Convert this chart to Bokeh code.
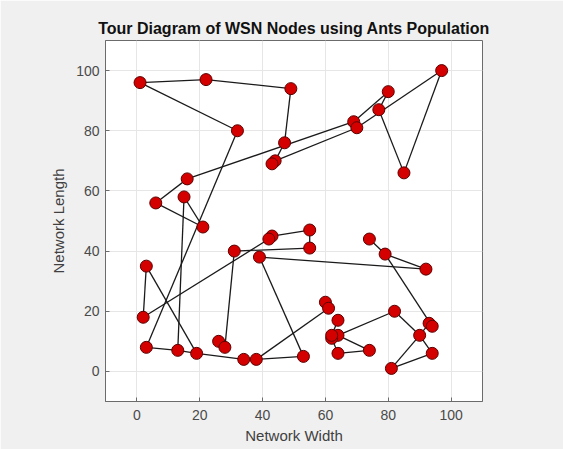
from bokeh.plotting import figure
from bokeh.models import FixedTicker, ColumnDataSource
from bokeh.embed import file_html
from bokeh.resources import INLINE

# Node coordinates
node_x = [1, 22, 49, 32, 47, 44, 43, 16, 6, 15,
          21, 97, 80, 77, 69, 70, 85, 55, 43, 42,
          31, 39, 3, 2, 3, 13, 19, 26, 28, 34,
          38, 53, 55, 74, 79, 92, 60, 61, 64, 64,
          62, 62, 64, 74, 82, 90, 93, 94, 94, 81]
node_y = [96, 97, 94, 80, 76, 70, 69, 64, 56, 58,
          48, 100, 93, 87, 83, 81, 66, 47, 45, 44,
          40, 38, 35, 18, 8, 7, 6, 10, 8, 4,
          4, 5, 41, 44, 39, 34, 23, 21, 17, 12,
          11, 12, 6, 7, 20, 12, 16, 15, 6, 1]

# Tour links between nodes (indices into the node arrays)
edge_from = [0, 1, 0, 2, 3, 7, 8, 9, 9, 24, 25, 22, 22, 23, 18, 18, 17, 20, 20, 21,
             21, 26, 29, 30, 30, 27, 36, 38, 39, 39, 42, 40, 44, 45, 49, 45, 45, 46,
             34, 33, 34, 11, 16, 13, 12, 11, 14, 7, 15, 4, 5]
edge_to = [1, 2, 3, 4, 24, 8, 10, 10, 25, 25, 26, 23, 26, 19, 19, 17, 32, 32, 28, 35,
           31, 29, 30, 31, 37, 28, 37, 41, 44, 43, 43, 42, 45, 49, 48, 48, 46, 47,
           47, 34, 35, 16, 13, 12, 14, 15, 15, 14, 5, 5, 6]

ticks = [0, 20, 40, 60, 80, 100]
tick_labels = ["0", "20", "40", "60", "80", "100"]

FONT = "Liberation Sans"

p = figure(width=563, height=449, x_range=(-10, 110), y_range=(-10, 110),
           output_backend="svg", toolbar_location=None,
           title="Tour Diagram of WSN Nodes using Ants Population")
p.min_border_left = 105
p.min_border_right = 81
p.min_border_top = 40
p.min_border_bottom = 48

p.background_fill_color = "white"
p.border_fill_color = "#f0f0f0"
p.outline_line_color = "#6b6b6b"
p.outline_line_width = 1

p.title.align = "center"
p.title.text_font = FONT
p.title.text_font_size = "16px"
p.title.text_font_style = "bold"
p.title.text_color = "#111111"
p.title.standoff = 7

for ax in (p.xaxis[0], p.yaxis[0]):
    ax.ticker = FixedTicker(ticks=ticks)
    ax.major_label_overrides = {t: l for t, l in zip(ticks, tick_labels)}
    ax.minor_tick_line_color = None
    ax.major_tick_in = 4
    ax.major_tick_out = 0
    ax.major_tick_line_color = "#6b6b6b"
    ax.axis_line_color = "#6b6b6b"
    ax.major_label_text_font = FONT
    ax.major_label_text_font_size = "14px"
    ax.major_label_text_color = "#4a4a4a"
    ax.axis_label_text_font = FONT
    ax.axis_label_text_font_size = "15px"
    ax.axis_label_text_font_style = "normal"
    ax.axis_label_text_color = "#404040"

p.xaxis.axis_label = "Network Width"
p.yaxis.axis_label = "Network Length"
p.xaxis.major_label_standoff = 8
p.xaxis.axis_label_standoff = 4
p.yaxis.major_label_standoff = 6
p.yaxis.axis_label_standoff = 6

p.xgrid.ticker = FixedTicker(ticks=ticks)
p.ygrid.ticker = FixedTicker(ticks=ticks)
p.grid.grid_line_color = "#e6e6e6"
p.grid.grid_line_width = 1

seg = ColumnDataSource(dict(
    x0=[node_x[i] for i in edge_from], y0=[node_y[i] for i in edge_from],
    x1=[node_x[j] for j in edge_to], y1=[node_y[j] for j in edge_to],
))
p.segment("x0", "y0", "x1", "y1", source=seg, line_color="#1a1a1a", line_width=1.3)

nodes = ColumnDataSource(dict(x=node_x, y=node_y))
p.scatter("x", "y", source=nodes, size=12, fill_color="#d40000",
          line_color="#5c0000", line_width=1)

open("out.html", "w").write(file_html(p, INLINE))
